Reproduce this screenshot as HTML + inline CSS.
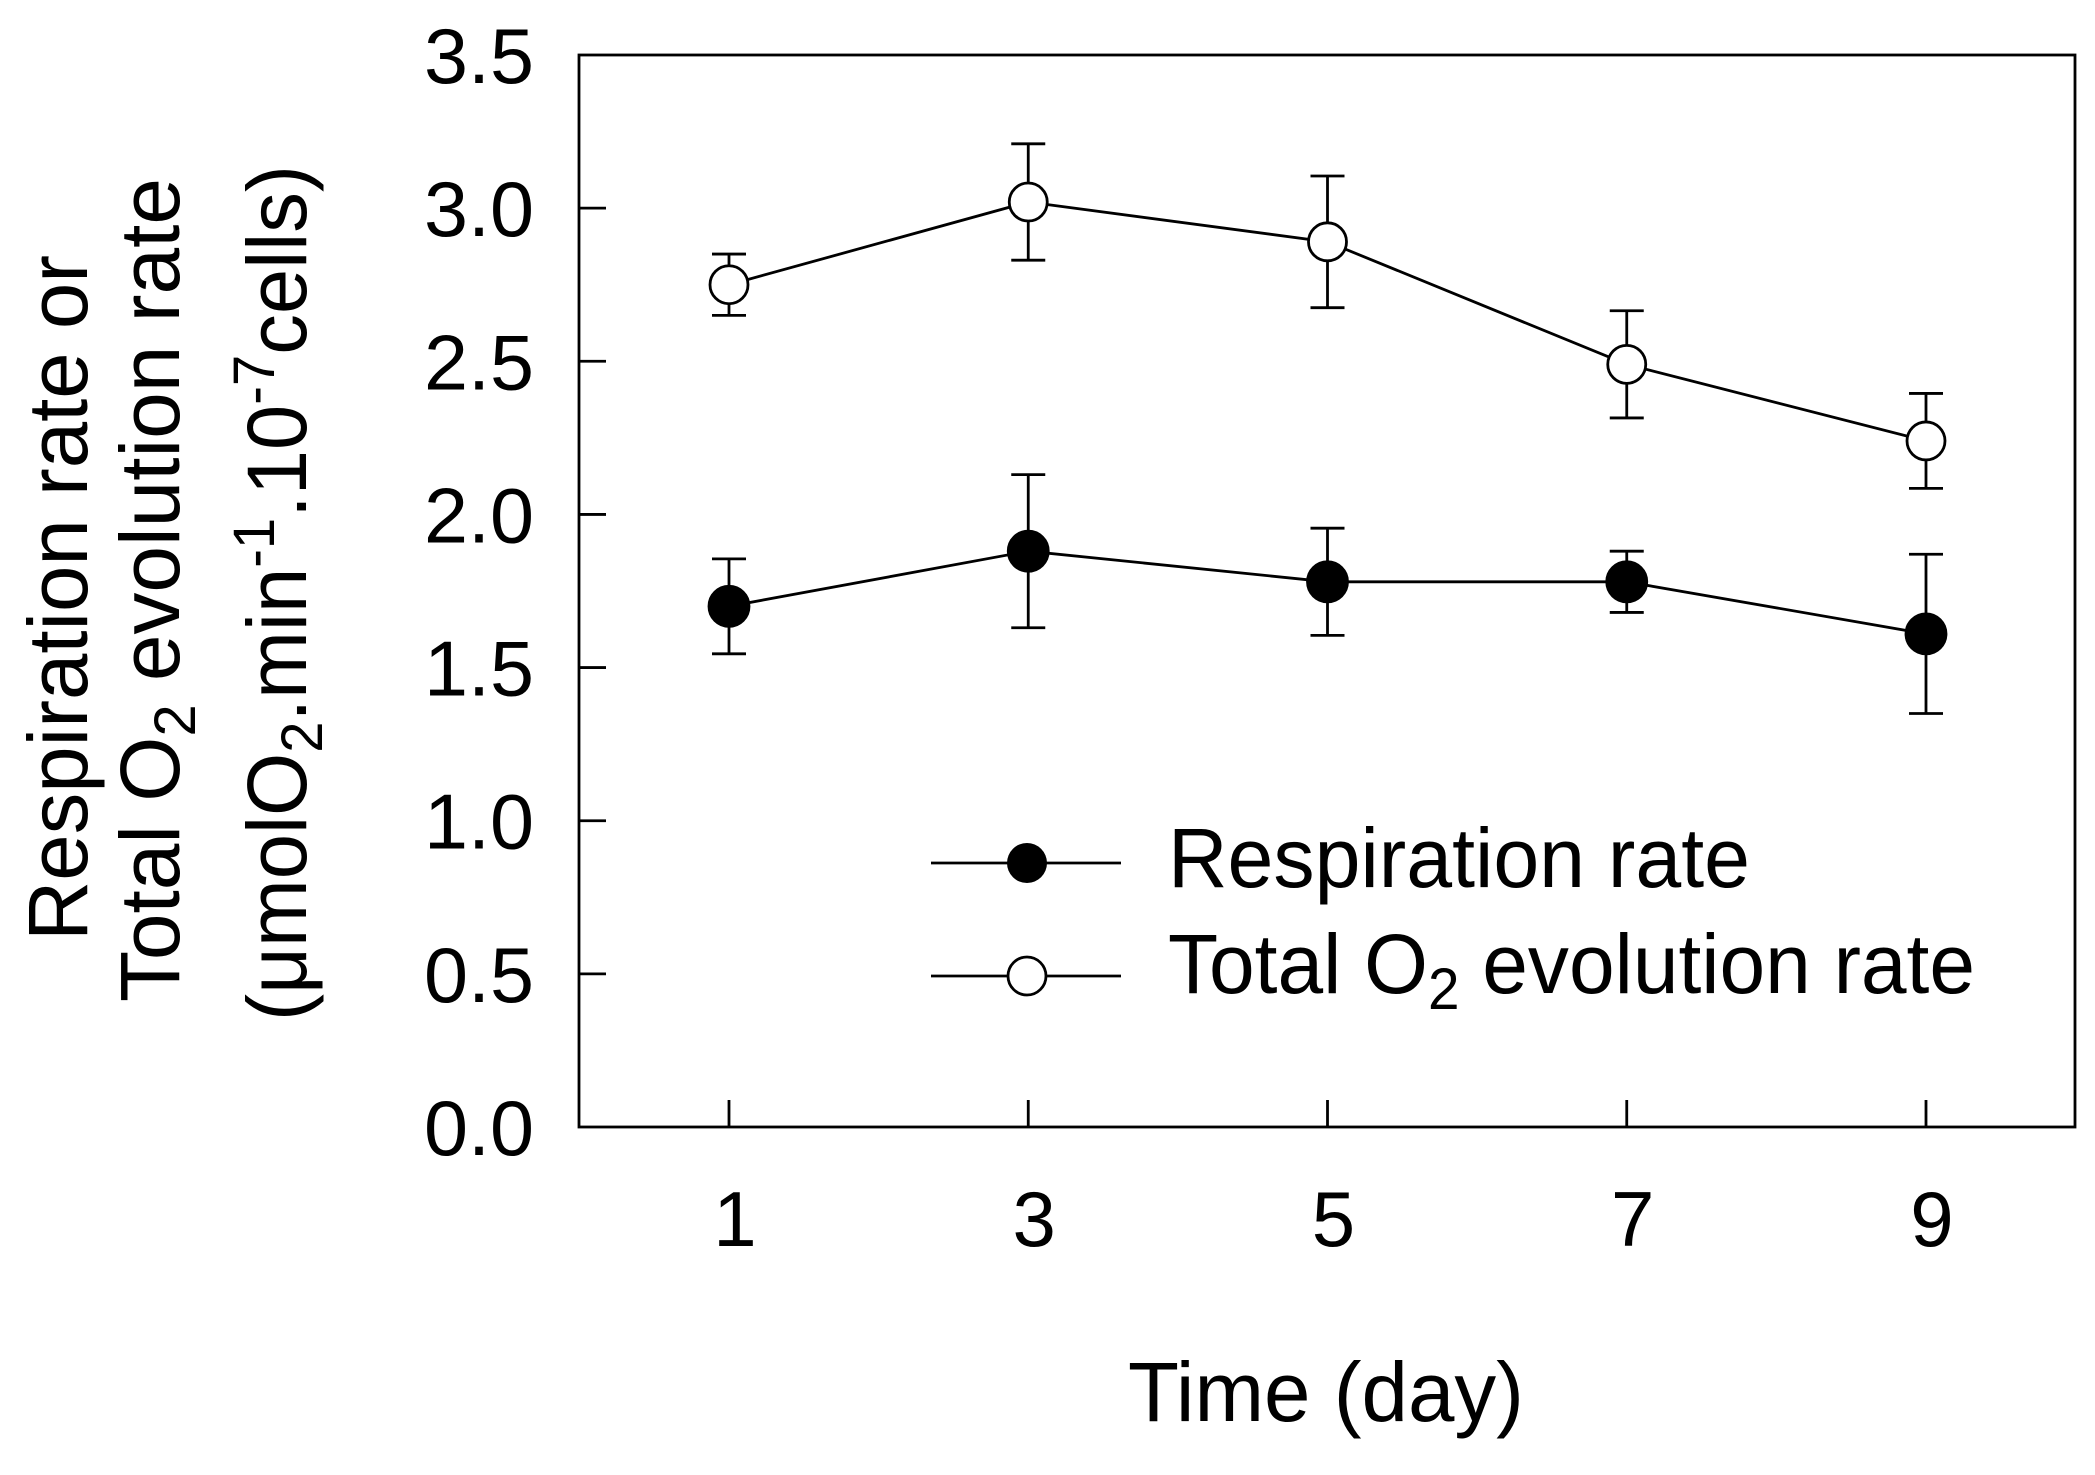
<!DOCTYPE html>
<html><head><meta charset="utf-8"><style>
html,body{margin:0;padding:0;background:#fff;}
svg{display:block;font-family:"Liberation Sans",Arial,sans-serif;}
</style></head><body>
<svg id="chart" width="2095" height="1475" viewBox="0 0 2095 1475" xmlns="http://www.w3.org/2000/svg">
<rect width="2095" height="1475" fill="#fff"/>
<g id="axes"></g>
<g id="series"></g>
<g fill="#000" font-size="84">
<text transform="translate(87,941) rotate(-90)" textLength="686" lengthAdjust="spacingAndGlyphs">Respiration rate or</text>
<text transform="translate(179,1002) rotate(-90)" textLength="824" lengthAdjust="spacingAndGlyphs">Total O<tspan font-size="58" dy="16">2</tspan><tspan dy="-16"> evolution rate</tspan></text>
<text transform="translate(306,1021) rotate(-90)" textLength="856" lengthAdjust="spacingAndGlyphs">(μmolO<tspan font-size="58" dy="16">2</tspan><tspan dy="-16">.min</tspan><tspan font-size="58" dy="-32">-1</tspan><tspan dy="32">.10</tspan><tspan font-size="58" dy="-32">-7</tspan><tspan dy="32">cells)</tspan></text>
</g>
<text x="1128" y="1421" font-size="84" textLength="396" lengthAdjust="spacingAndGlyphs">Time (day)</text>
<g>
<line x1="931" y1="863" x2="1121" y2="863" stroke="#000" stroke-width="2.8"/>
<circle cx="1027" cy="863" r="20" fill="#000"/>
<text x="1168" y="887" font-size="84" textLength="582" lengthAdjust="spacingAndGlyphs">Respiration rate</text>
<line x1="931" y1="976" x2="1121" y2="976" stroke="#000" stroke-width="2.8"/>
<circle cx="1027" cy="976" r="19" fill="#fff" stroke="#000" stroke-width="2.8"/>
<text x="1168" y="993" font-size="84" textLength="807" lengthAdjust="spacingAndGlyphs">Total O<tspan font-size="58" dy="16">2</tspan><tspan dy="-16"> evolution rate</tspan></text>
</g>
</svg>
<script>
const days = [1, 3, 5, 7, 9];
const respiration = [1.70, 1.88, 1.78, 1.78, 1.61];
const respirationErr = [0.155, 0.25, 0.175, 0.10, 0.26];
const totalO2 = [2.75, 3.02, 2.89, 2.49, 2.24];
const totalO2Err = [0.10, 0.19, 0.215, 0.175, 0.155];
const yTicks = [0, 0.5, 1.0, 1.5, 2.0, 2.5, 3.0, 3.5];
const yTickLabels = ["0.0", "0.5", "1.0", "1.5", "2.0", "2.5", "3.0", "3.5"];
const xTickLabels = ["1", "3", "5", "7", "9"];

const NS = "http://www.w3.org/2000/svg";
const L = 579, R = 2075, T = 55, B = 1127;
const yMin = 0, yMax = 3.5;
const sx = d => 729 + (d - 1) * (1926 - 729) / 8;
const sy = v => B - (v - yMin) / (yMax - yMin) * (B - T);
function mk(tag, attrs, parent) {
  const e = document.createElementNS(NS, tag);
  for (const k in attrs) e.setAttribute(k, attrs[k]);
  parent.appendChild(e);
  return e;
}
const axes = document.getElementById('axes');
const frame = mk('rect', {x: L, y: T, width: R - L, height: B - T, fill: 'none', stroke: '#000', 'stroke-width': 2.8}, axes);


yTicks.forEach((v, i) => {
  const y = sy(v);
  if (i > 0 && i < yTicks.length - 1) {
    const t = mk('line', {x1: L, x2: L + 27, y1: y, y2: y, stroke: '#000', 'stroke-width': 2.8}, axes);
    
    
  }
  const lb = mk('text', {x: 424, y: y + 28, 'font-size': 78, textLength: 110, lengthAdjust: 'spacingAndGlyphs'}, axes);
  lb.textContent = yTickLabels[i];
  
  
});
days.forEach((d, i) => {
  const x = sx(d);
  const t = mk('line', {x1: x, x2: x, y1: B, y2: B - 27, stroke: '#000', 'stroke-width': 2.8}, axes);
  
  
  const lb = mk('text', {x: x + 6, y: 1246, 'font-size': 78, 'text-anchor': 'middle'}, axes);
  lb.textContent = xTickLabels[i];
  
  
});
const series = document.getElementById('series');
function drawSeries(vals, errs, filled, name) {
  const g = mk('g', {}, series);
  
  
  const pts = days.map((d, i) => sx(d) + ',' + sy(vals[i])).join(' ');
  const pl = mk('polyline', {points: pts, fill: 'none', stroke: '#000', 'stroke-width': 2.8}, g);
  
  
  days.forEach((d, i) => {
    const x = sx(d), y1 = sy(vals[i] + errs[i]), y2 = sy(vals[i] - errs[i]);
    const e = mk('path', {d: `M${x},${y1}V${y2}M${x-17},${y1}H${x+17}M${x-17},${y2}H${x+17}`, stroke: '#000', 'stroke-width': 2.8, fill: 'none'}, g);
    
    
  });
  days.forEach((d, i) => {
    const c = mk('circle', {cx: sx(d), cy: sy(vals[i]), r: filled ? 20 : 19, fill: filled ? '#000' : '#fff', stroke: '#000', 'stroke-width': 2.8}, g);
    
    
  });
}
drawSeries(totalO2, totalO2Err, false, 'total-o2');
drawSeries(respiration, respirationErr, true, 'respiration');
</script>
</body></html>
